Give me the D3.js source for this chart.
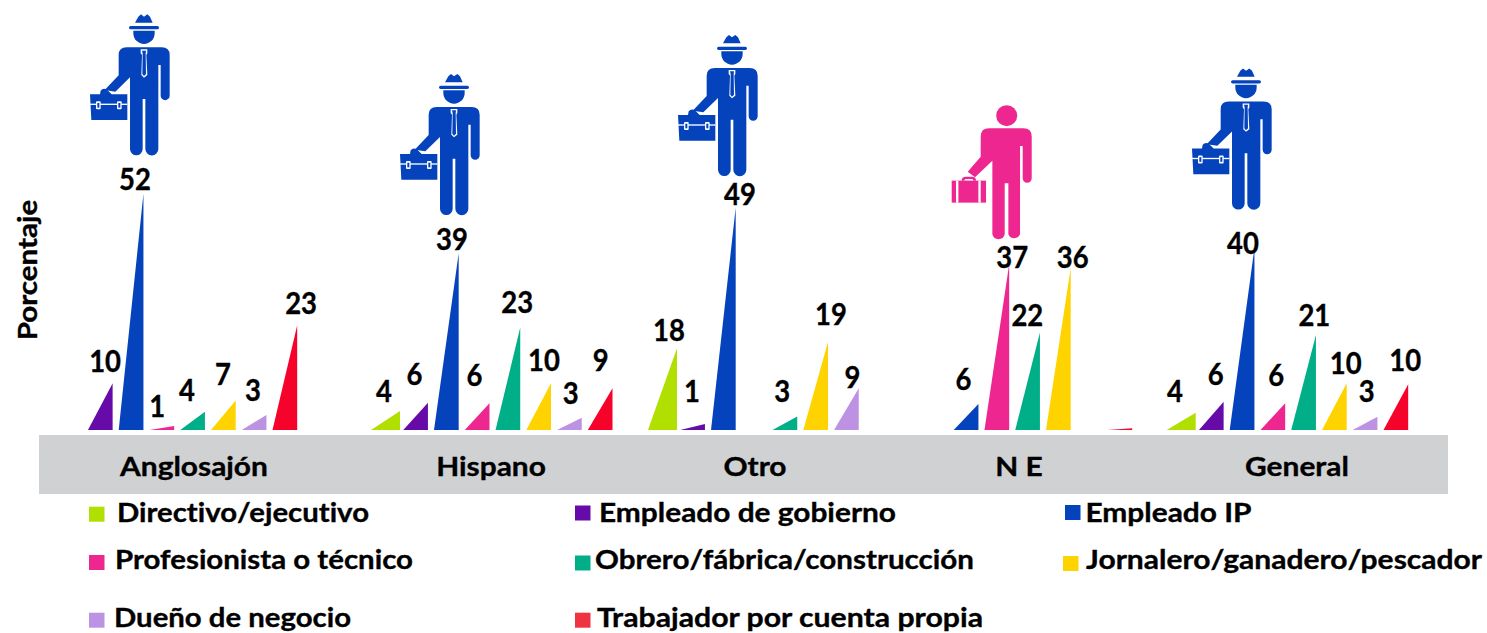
<!DOCTYPE html>
<html><head><meta charset="utf-8">
<script src="https://cdn.jsdelivr.net/npm/d3@7"></script>
<style>html,body{margin:0;padding:0;background:#fff}svg{display:block}text{font-family:Lato,"Open Sans",sans-serif;font-weight:700;fill:#000;stroke:#000;stroke-width:.35px;font-variant-ligatures:none}</style>
</head><body><svg id="c" width="1487" height="633"></svg>
<script>
const groups = ["Anglosajón","Hispano","Otro","N E","General"];
const series = ["Directivo/ejecutivo","Empleado de gobierno","Empleado IP","Profesionista o técnico","Obrero/fábrica/construcción","Jornalero/ganadero/pescador","Dueño de negocio","Trabajador por cuenta propia"];
const anglosajon = [0,10.3,52,0.9,4,6.5,3.3,23.1];
const hispano    = [4.2,6,39,5.9,22.6,10.3,2.7,9.2];
const otro       = [18,1.3,49,0,3,19.4,9.2,0];
const ne         = [0,0,5.7,36.5,21.5,35.7,0,0.4];
const general    = [3.8,6.2,40,5.9,20.9,10.3,2.9,10.1];
const table = [anglosajon,hispano,otro,ne,general];
const colors = ["#B0DF00","#660AA8","#0443BC","#EE2790","#00AF87","#FFD300","#BE92E3","#F5032B"];
const legendColors = ["#B0DF00","#660AA8","#0443BC","#EE2790","#00AF87","#FFD300","#BE92E3","#EF3340"];

// Layout
const svg = d3.select("#c");
const y = d3.scaleLinear().domain([0,52]).range([430,430-52*4.54]);
const origin = d3.scaleOrdinal(groups,[57.2,372.5,649.5,892.2,1168.2]);
const x = d3.scaleBand().domain(series).range([0,240]).paddingInner(0.197);
const groupCenter = d3.scaleOrdinal(groups,[194,491,755,1019,1297]);
const iconPos = d3.scaleOrdinal(groups,[[90,14.3],[400,74],[678,35],[951.7,105.3],[1192,68.5]]);
// The reference's type is a little wider than Lato at the same height
const stretch = (sel,k)=>sel.each(function(){this.setAttribute("textLength",this.getComputedTextLength()*k);this.setAttribute("lengthAdjust","spacingAndGlyphs");});
// Hand-placed label offsets from each triangle's apex, as in the original slide
const nudge = [
 [null,[-7.6,-22],[-8.4,-14],[-17,-19],[-18,-21],[-12.6,-25.5],[-13.4,-25],[3.9,-22]],
 [[-16,-19],[-13.6,-28],[-6.7,-13],[-15,-28],[-3,-25],[-7,-23],[-11,-24],[-11.8,-28]],
 [[-8,-18],[-13,-32.4],[4.3,-13.5],null,[-15,-24.7],[3,-27],[-6.4,-10.5],null],
 [null,null,[-15,-25],[3,-6.6],[-12.6,-16.7],[2,-10],null,null],
 [[-20.7,-21],[-8,-27],[-11.4,-5.4],[-9,-28],[-1.6,-20],[-1,-20],[-10.7,-25.8],[-3,-24]]
];

// Band
svg.append("rect").attr("x",39).attr("y",435).attr("width",1409).attr("height",59).attr("fill","#D0D1D3");
svg.selectAll("text.g").data(groups).join("text").attr("class","g")
  .attr("x",d=>groupCenter(d)).attr("y",465.5).attr("text-anchor","middle").attr("dominant-baseline","central")
  .attr("font-size",27).text(d=>d).call(stretch,1.106);

// Triangles + labels
const cells = table.flatMap((row,gi)=>row.map((v,si)=>({g:groups[gi],gi,s:series[si],si,v})));
const geom = d=>{
  const wide = d.si===0;
  const x0 = origin(d.g)+x(d.s)+(wide?-1.5:0), w = x.bandwidth()+(wide?4.3:0);
  return {x0,x1:x0+w};
};
svg.selectAll("path.t").data(cells.filter(d=>d.v>0)).join("path").attr("class","t")
  .attr("fill",d=>colors[d.si])
  .attr("d",d=>{const g=geom(d);return `M${g.x0},${y(0)}L${g.x1},${y(0)}L${g.x1},${y(d.v)}Z`;});
svg.selectAll("text.v").data(cells.filter(d=>Math.round(d.v)>=1)).join("text").attr("class","v")
  .attr("x",d=>geom(d).x1+nudge[d.gi][d.si][0])
  .attr("y",d=>y(d.v)+nudge[d.gi][d.si][1]-1)
  .attr("text-anchor","middle").attr("dominant-baseline","central")
  .attr("font-size",29.5).text(d=>Math.round(d.v)).call(stretch,0.93);

// Y title
svg.append("text").attr("transform","translate(26,270) rotate(-90)").attr("text-anchor","middle")
  .attr("dominant-baseline","central").attr("font-size",27).text("Porcentaje").call(stretch,1.095);

// Legend
const legendX = [[89,117],[575,599],[1065,1085.5],[89,115],[575,595],[1063,1086],[89,114],[575,597]];
const legendSwatchY = [506.7,505.5,505,555,555.5,556,612.7,612.7];
const legendTextY = [511,511,511,558,558,558,616,616];
const legendTextWidth = [252,297,166,298,379,396,237,386];
series.forEach((s,i)=>{
  svg.append("rect").attr("x",legendX[i][0]).attr("y",legendSwatchY[i]).attr("width",15.5).attr("height",15)
    .attr("fill",legendColors[i]);
  svg.append("text").attr("class","l").attr("x",legendX[i][1]).attr("y",legendTextY[i])
    .attr("dominant-baseline","central").attr("font-size",27).text(s)
    .attr("textLength",legendTextWidth[i]).attr("lengthAdjust","spacingAndGlyphs");
});

// Figures (drawn in 3x units)
const bodyMan = "M146,165Q146,142 170,142L275,142Q299,142 299,165L299,287A13.5,13.5 0 0 1 272,287L272,195L265,195L265,447A19,19 0 0 1 226,447L226,297L218,297L218,447A19,19 0 0 1 180,447L180,232L136,275L104,270L146,226Z";
const man = g=>{
  const [px,py]=iconPos(g);
  const c = svg.append("g").attr("transform",`translate(${px},${py}) scale(${1/3}) translate(-60,-43)`).attr("fill","#0443BC");
  c.append("path").attr("d","M195,68L205,50L213,43L222,50L232,43L240,50L248,68Z");
  c.append("rect").attr("x",177).attr("y",78).attr("width",90).attr("height",10).attr("rx",5);
  c.append("path").attr("d","M190,92L254,92L254,100A32,32 0 0 1 190,100Z");
  c.append("path").attr("d",bodyMan);
  c.append("path").attr("d","M212,148L232,148L232,160L229,165L232,225L222,233L214,225L216,165L212,160Z").attr("fill","#fff");
  c.append("path").attr("d","M216,152L228,152L227,160L228,222L222,228L217,222L218,160Z");
  c.append("path").attr("d","M90,283L92,272Q100,262 112,270L125,283L172,283L172,360L64,360L60,283Z");
  c.append("rect").attr("x",60).attr("y",311).attr("width",112).attr("height",4).attr("fill","#fff");
  [78,141].forEach(cx=>c.append("rect").attr("x",cx).attr("y",304).attr("width",14).attr("height",24).attr("rx",3).attr("fill","#fff"));
  [82,145].forEach(cx=>c.append("rect").attr("x",cx).attr("y",309).attr("width",6).attr("height",14).attr("fill","#0443BC"));
};
["Anglosajón","Hispano","Otro","General"].forEach(man);

(function(){
  const [px,py]=iconPos("N E");
  const c = svg.append("g").attr("transform",`translate(${px},${py}) scale(${1/3}) translate(-65,-46)`).attr("fill","#EE2790");
  c.append("circle").attr("cx",230).attr("cy",77).attr("r",31.5);
  c.append("path").attr("d","M152,140Q152,115 177,115L280,115Q305,115 305,140L305,265A13.5,13.5 0 0 1 278,265L278,168L270,168L270,433A19,19 0 0 1 235,433L235,280L224,280L224,433A19,19 0 0 1 187,433L187,212L135,262L113,245L152,200Z");
  c.append("path").attr("d","M95,272Q95,260 107,260L126,260Q138,260 138,272L130,272Q130,267 126,267L107,267Q103,267 103,272Z");
  c.append("rect").attr("x",65).attr("y",272).attr("width",103).attr("height",66);
  [78,145].forEach(cx=>c.append("rect").attr("x",cx).attr("y",272).attr("width",7).attr("height",66).attr("fill","#fff"));
})();
</script></body></html>
